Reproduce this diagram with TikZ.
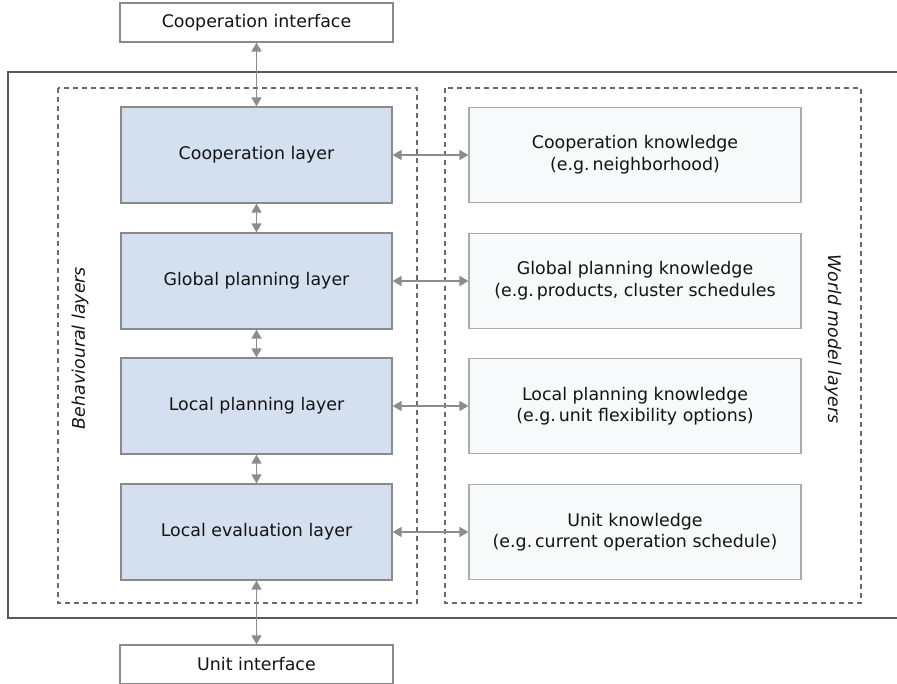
\documentclass[tikz,border=0pt]{standalone}
\usepackage{fontspec}
\setmainfont{DejaVu Sans}
\usetikzlibrary{arrows.meta}
\definecolor{layerfill}{HTML}{D4DFF0}
\definecolor{layerdraw}{HTML}{8A8A8A}
\definecolor{knowfill}{HTML}{F8F9FB}
\definecolor{knowdraw}{HTML}{ABABAB}
\definecolor{arrowcol}{HTML}{8C8C8C}
\definecolor{dashcol}{HTML}{6A6A6A}
\tikzset{
  every node/.style={font=\fontsize{17.4}{21.6}\selectfont, text=black!92, align=center, inner sep=0pt},
  layerbox/.style={draw=layerdraw, fill=layerfill, line width=1.2pt, minimum width=271pt, minimum height=96pt},
  knowbox/.style={draw=knowdraw, fill=knowfill, line width=1.2pt, minimum width=332pt, minimum height=95pt},
  ifacebox/.style={draw=layerdraw, fill=white, line width=1.2pt, minimum width=273pt, minimum height=39pt},
  groupbox/.style={draw=dashcol, line width=1.2pt, dash pattern=on 5pt off 4pt},
  link/.style={draw=arrowcol, line width=1.5pt, {Triangle[length=9pt,width=10pt]}-{Triangle[length=9pt,width=10pt]}},
  sidelabel/.style={font=\fontsize{17.4}{21.6}\selectfont\itshape}
}
\begin{document}
\begin{tikzpicture}[x=1pt,y=-1pt]
\useasboundingbox (0,0) rectangle (897,684);
% outer frame (extends past right edge)
\draw[draw=black!65, line width=1.5pt] (900,72) -- (8,72) -- (8,618) -- (900,618);
% dashed groups
\draw[groupbox] (58,88) rectangle (417,603);
\draw[groupbox] (445,88) rectangle (861,603);
% interfaces
\node[ifacebox] (ci) at (256.5,22.5) {Cooperation interface};
\node[ifacebox] (ui) at (256.5,664.5) {Unit interface};
% behavioural layers
\node[layerbox] (cl) at (256.5,155) {Cooperation layer};
\node[layerbox] (gl) at (256.5,281) {Global planning layer};
\node[layerbox] (ll) at (256.5,406) {Local planning layer};
\node[layerbox] (el) at (256.5,532) {Local evaluation layer};
% knowledge
\node[knowbox] (ck) at (635,155) {Cooperation knowledge\\(e.g.\,neighborhood)};
\node[knowbox] (gk) at (635,281) {Global planning knowledge\\(e.g.\,products, cluster schedules};
\node[knowbox] (lk) at (635,406) {Local planning knowledge\\(e.g.\,unit flexibility options)};
\node[knowbox] (uk) at (635,532) {Unit knowledge\\(e.g.\,current operation schedule)};
% side labels
\node[sidelabel, rotate=90] (bl) at (80,348) {Behavioural layers};
\node[sidelabel, rotate=-90] (wl) at (833,339) {World model layers};
% connectors
\draw[link] (ci) -- (cl);
\draw[link] (cl) -- (gl);
\draw[link] (gl) -- (ll);
\draw[link] (ll) -- (el);
\draw[link] (el) -- (ui);
\draw[link] (cl.east) -- (ck.west);
\draw[link] (gl.east) -- (gk.west);
\draw[link] (ll.east) -- (lk.west);
\draw[link] (el.east) -- (uk.west);
\end{tikzpicture}
\end{document}
